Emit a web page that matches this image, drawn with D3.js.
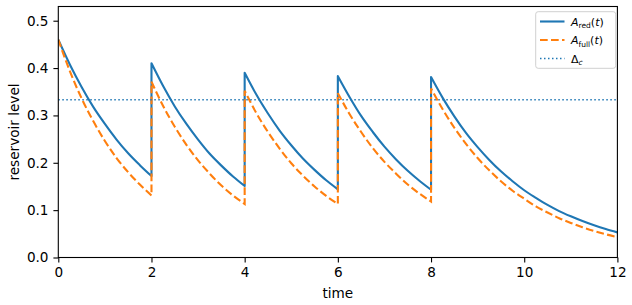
<!DOCTYPE html>
<html><head><meta charset="utf-8">
<script src="https://cdn.jsdelivr.net/npm/d3@7"></script>
<style>body{margin:0;background:#fff;} text{font-family:"DejaVu Sans",sans-serif;}</style>
</head><body><svg id="c" width="632" height="305"></svg>
<script>
// Data (time, level) per segment between refills
const timeTicks = [0, 2, 4, 6, 8, 10, 12];
const levelTicks = [0.0, 0.1, 0.2, 0.3, 0.4, 0.5];
const deltaC = 0.3333;
const segTimes = [
  [0,0.25,0.5,0.75,1,1.25,1.5,1.75,2],
  [2,2.25,2.5,2.75,3,3.25,3.5,3.75,4],
  [4,4.25,4.5,4.75,5,5.25,5.5,5.75,6],
  [6,6.25,6.5,6.75,7,7.25,7.5,7.75,8],
  [8,8.25,8.5,8.75,9,9.25,9.5,9.75,10,10.25,10.5,10.75,11,11.25,11.5,11.75,12]
];
const aRed = [
  [0.460,0.407,0.360,0.318,0.282,0.249,0.220,0.195,0.172],
  [0.410,0.362,0.319,0.282,0.249,0.219,0.194,0.171,0.151],
  [0.390,0.344,0.304,0.268,0.237,0.209,0.185,0.163,0.144],
  [0.383,0.339,0.299,0.265,0.234,0.207,0.183,0.162,0.143],
  [0.381,0.337,0.298,0.263,0.233,0.206,0.182,0.161,0.142,0.126,0.111,0.098,0.087,0.077,0.068,0.060,0.053]
];
const aFull = [
  [0.460,0.393,0.336,0.288,0.246,0.210,0.180,0.154,0.131],
  [0.371,0.320,0.276,0.238,0.205,0.177,0.152,0.131,0.113],
  [0.352,0.305,0.265,0.230,0.199,0.173,0.150,0.130,0.113],
  [0.347,0.303,0.265,0.231,0.202,0.177,0.154,0.135,0.118],
  [0.357,0.313,0.274,0.240,0.210,0.184,0.161,0.141,0.124,0.108,0.095,0.083,0.073,0.064,0.056,0.049,0.043]
];

const svg = d3.select("#c");
const L = 58.3, R = 617.4, T = 6.5, B = 257.5;
const x = d3.scaleLinear().domain([0, 12]).range([L, R]);
const y = d3.scaleLinear().domain([0, 0.53]).range([B, T]);
const blue = "#1f77b4", orange = "#ff7f0e";

function seriesPath(vals) {
  const line = d3.line().x(d => x(d[0])).y(d => y(d[1])).curve(d3.curveMonotoneX);
  let s = "";
  segTimes.forEach((ts, i) => {
    const p = line(ts.map((t, j) => [t, vals[i][j]]));
    s += (i === 0 ? p : "L" + p.slice(1));
  });
  return s;
}

const clip = svg.append("clipPath").attr("id","clp").append("rect")
  .attr("x", L).attr("y", T).attr("width", R - L).attr("height", B - T);
const g = svg.append("g").attr("clip-path", "url(#clp)");

g.append("path").attr("d", seriesPath(aRed)).attr("fill","none")
  .attr("stroke", blue).attr("stroke-width", 2.1).attr("stroke-linejoin","round");
g.append("path").attr("d", seriesPath(aFull)).attr("fill","none")
  .attr("stroke", orange).attr("stroke-width", 2.1).attr("stroke-dasharray","7.7,3.3");
g.append("line").attr("x1", x(0)).attr("x2", x(12)).attr("y1", y(deltaC)).attr("y2", y(deltaC))
  .attr("stroke", blue).attr("stroke-width", 1.5).attr("stroke-dasharray","1.5,2.5");

// axes
const xa = svg.append("g").attr("transform", `translate(0,${B})`)
  .call(d3.axisBottom(x).tickValues(timeTicks).tickFormat(d3.format("d")).tickSize(4.9).tickPadding(4.9));
const ya = svg.append("g").attr("transform", `translate(${L},0)`)
  .call(d3.axisLeft(y).tickValues(levelTicks).tickFormat(d3.format(".1f")).tickSize(4.9).tickPadding(4.9));
[xa, ya].forEach(a => {
  a.select(".domain").remove();
  a.selectAll("line").attr("stroke", "#000").attr("stroke-width", 1.1);
  a.selectAll("text").attr("font-size", "13.6px").attr("fill", "#000").attr("font-family","DejaVu Sans");
});
svg.append("rect").attr("x", L).attr("y", T).attr("width", R - L).attr("height", B - T)
  .attr("fill","none").attr("stroke","#000").attr("stroke-width",1.1);

svg.append("text").attr("x", (L + R) / 2).attr("y", 298).attr("text-anchor","middle")
  .attr("font-size","13.6px").text("time");
svg.append("text").attr("transform", `translate(19,${(T + B) / 2}) rotate(-90)`)
  .attr("text-anchor","middle").attr("font-size","13.6px").text("reservoir level");

// legend
const lg = svg.append("g");
lg.append("rect").attr("x", 535.7).attr("y", 11.7).attr("width", 80).attr("height", 56.6)
  .attr("rx", 2.5).attr("fill","#fff").attr("fill-opacity",0.8).attr("stroke","#d0d0d0").attr("stroke-width",1);
const items = [
  {sub:"red", t:true, color:blue, dash:null, w:2.1},
  {sub:"full", t:true, color:orange, dash:"7.7,3.3", w:2.1},
  {sub:"c", t:false, color:blue, dash:"1.5,2.5", w:1.5}
];
items.forEach((it, i) => {
  const cy = 21.5 + i * 18.5;
  lg.append("line").attr("x1", 540).attr("x2", 564.5).attr("y1", cy).attr("y2", cy)
    .attr("stroke", it.color).attr("stroke-width", it.w).attr("stroke-dasharray", it.dash);
  const tx = lg.append("text").attr("x", 571).attr("y", cy + 4).attr("font-size","11px");
  if (it.t) {
    tx.append("tspan").attr("font-style","italic").text("A");
    tx.append("tspan").attr("font-size","7.5px").attr("dy", 2.5).text(it.sub);
    tx.append("tspan").attr("dy", -2.5).text("(");
    tx.append("tspan").attr("font-style","italic").text("t");
    tx.append("tspan").text(")");
  } else {
    tx.append("tspan").text("Δ");
    tx.append("tspan").attr("font-size","7.5px").attr("font-style","italic").attr("dy", 2.5).text(it.sub);
  }
});
</script></body></html>
